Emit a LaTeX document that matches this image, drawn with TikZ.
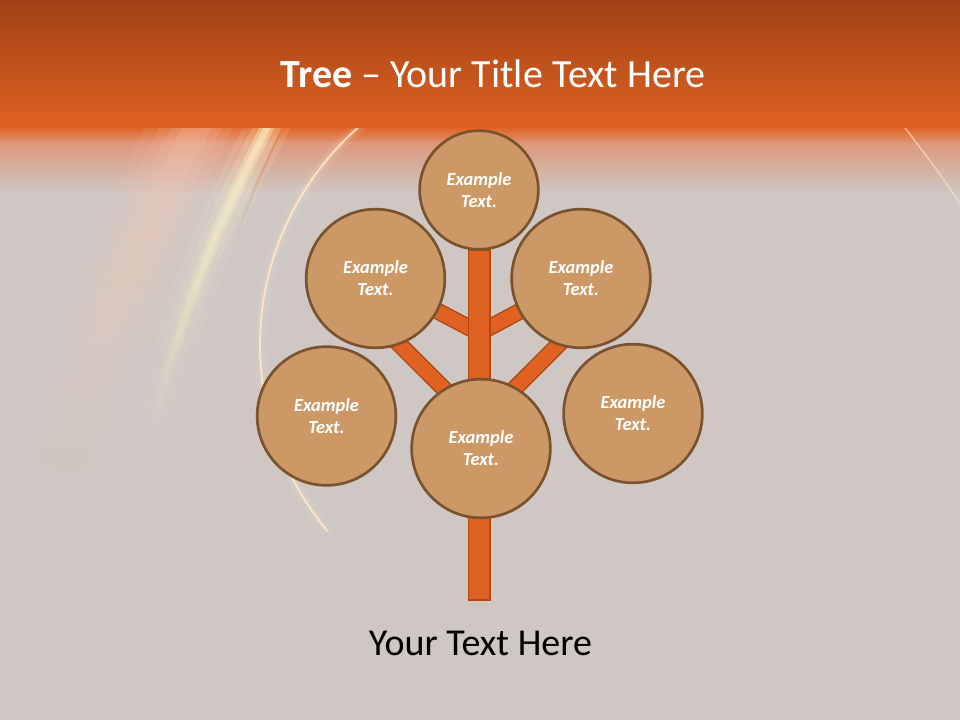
\documentclass[tikz,border=0pt]{standalone}
\usepackage{fontspec}
\usetikzlibrary{fadings}
\setmainfont{Carlito}

\definecolor{slidegrey}{RGB}{206,199,196}
\definecolor{bandtop}{RGB}{160,66,22}
\definecolor{bandmid}{RGB}{200,84,30}
\definecolor{bandlow}{RGB}{224,98,34}
\definecolor{bandfade}{RGB}{222,152,124}
\definecolor{leaffill}{RGB}{204,153,102}
\definecolor{leafline}{RGB}{122,82,45}
\definecolor{woodfill}{RGB}{224,98,34}
\definecolor{woodline}{RGB}{176,72,20}
\definecolor{glowpink}{RGB}{252,200,180}
\definecolor{glowyellow}{RGB}{255,244,200}
\definecolor{glowline}{RGB}{255,232,200}

\pgfdeclarelayer{bg}
\pgfdeclarelayer{back}
\pgfsetlayers{bg,back,main}

\tikzset{every picture/.style={line width=0.75pt}}
\tikzset{
  leaf/.style={circle, draw=leafline, line width=2pt, fill=leaffill, minimum size=104pt,
    inner sep=0pt, align=center, text=white, font=\bfseries\itshape\fontsize{13.8}{16.5}\selectfont},
  smallleaf/.style={leaf, minimum size=89pt},
  trunkbox/.style={rectangle, draw=woodline, line width=1.1pt, fill=woodfill,
    minimum width=16pt, minimum height=262.5pt, inner sep=0pt},
  branch/.style={draw=woodline, line width=1.1pt, double=woodfill, double distance=10.5pt},
  streak/.style={line cap=butt, path fading=south},
}

\begin{document}
\begin{tikzpicture}[x=0.75pt,y=0.75pt,yscale=-1,xscale=1]
\useasboundingbox (0,0) rectangle (960,720);

\begin{pgfonlayer}{bg}
%Shape: Rectangle [slide background]
\fill [slidegrey] (0,0) rectangle (960,720);
%Shape: Rectangle [band fade]
\shade [top color=bandlow, bottom color=bandfade] (0,127) rectangle (960,144);
\shade [top color=bandfade, bottom color=slidegrey] (0,143) rectangle (960,194);
%Curve Lines [glow streaks]
\foreach \w/\o in {70/0.12, 50/0.15, 34/0.18, 20/0.2}
  \draw [streak, glowpink, line width=\w, opacity=\o] (205,110) .. controls (150,220) and (100,330) .. (60,470);
\foreach \w/\o in {32/0.15, 20/0.22, 10/0.4, 5/0.55}
  \draw [streak, glowyellow, line width=\w, opacity=\o] (276,110) .. controls (230,200) and (185,290) .. (150,440);
\draw [streak, bandlow, line width=1.5, opacity=0.4] (290,112) .. controls (262,170) and (245,210) .. (232,250);
\foreach \w/\o in {10/0.08, 5/0.12}
  \draw [glowline, line width=\w, opacity=\o] (550,345) ++(233:290) arc[start angle=233, end angle=140, radius=290];
\draw [glowline, line width=1.4, opacity=0.9] (550,345) ++(233:290) arc[start angle=233, end angle=140, radius=290];
\draw [glowline, line width=1.2, opacity=0.55] (895,115) .. controls (930,160) and (946,182) .. (962,207);
%Shape: Rectangle [title band]
\shade [top color=bandtop, middle color=bandmid, bottom color=bandlow] (0,0) rectangle (960,128);
\end{pgfonlayer}

%Shape: Rectangle [trunk]
\node [trunkbox] (trunk) at (479.3,425) {};
\coordinate (jupper) at (479.3,333);
\coordinate (jlower) at (479.3,424);
\coordinate (ltip) at (380,325);
\coordinate (rtip) at (578,325);

%Shape: Circle [leaves]
\node [smallleaf] (top) at (479,190) {Example\\Text.};
\node [leaf] (ul) at (375.5,278.5) {Example\\Text.};
\node [leaf] (ur) at (581,278.5) {Example\\Text.};
\node [leaf] (ll) at (326.5,416) {Example\\Text.};
\node [leaf] (cc) at (481,448.5) {Example\\Text.};
\node [leaf] (rr) at (633,413.5) {Example\\Text.};

\begin{pgfonlayer}{back}
%Straight Lines [branches]
\draw [branch] (jupper) -- (ul.center);
\draw [branch] (jupper) -- (ur.center);
\draw [branch] (jlower) -- (ltip);
\draw [branch] (jlower) -- (rtip);
\end{pgfonlayer}

% Text Node
\node (title) at (493,88) [anchor=base, text=white, font=\fontsize{30}{36}\selectfont] {\textbf{Tree} – Your Title Text Here};
% Text Node
\node (caption) at (480.5,655) [anchor=base, font=\fontsize{28.5}{34}\selectfont] {Your Text Here};

\end{tikzpicture}
\end{document}
